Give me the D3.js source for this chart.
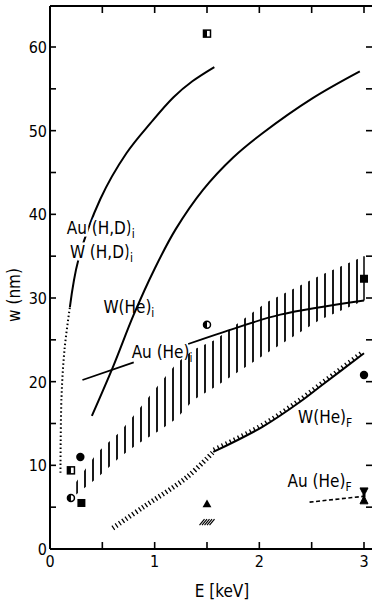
<!DOCTYPE html>
<html>
<head>
<meta charset="utf-8">
<script src="https://cdn.jsdelivr.net/npm/d3@7"></script>
<style>
  html, body { margin: 0; padding: 0; background: #fff; }
  text { font-family: "DejaVu Sans Condensed", "DejaVu Sans", sans-serif; fill: #000; }
</style>
</head>
<body>
<div id="chart"></div>
<script>
// curves: [E (keV), w (nm)]
const auHDi = [[0.19, 28.9], [0.27, 34.5], [0.48, 41.8], [0.73, 47.3], [0.96, 50.9], [1.18, 54], [1.36, 55.9], [1.57, 57.6]];
const auHDiDotted = [[0.1, 9.1], [0.11, 18.2], [0.14, 24], [0.19, 28.9]];
const wHei = [[0.4, 15.9], [0.6, 21.7], [0.8, 28], [1.0, 33.5], [1.2, 38.2], [1.46, 42.9], [1.75, 46.8], [2.03, 49.7], [2.51, 53.9], [2.96, 57.1]];
const auHeiA = [[0.31, 20.2], [0.8, 22.3]];
const auHeiB = [[1.32, 24.5], [1.65, 25.9], [2.2, 28], [3, 29.7]];
const bandUpper = [[0.25, 8], [0.45, 11.5], [0.67, 14], [0.83, 16.4], [1.05, 19.8], [1.21, 22.2], [1.37, 23.8], [1.58, 25], [2.07, 29.5], [2.58, 32.7], [3, 35]];
const bandLower = [[0.25, 6.5], [0.45, 8.5], [0.67, 11], [0.83, 12.5], [1.05, 14.2], [1.21, 15.6], [1.37, 17.8], [1.6, 19.4], [2.07, 23.4], [2.58, 27.4], [3, 29.7]];
const wHeFDashed = [[0.6, 2.5], [0.89, 5], [1.31, 8.6], [1.56, 11.6]];
const wHeFSolid = [[1.56, 11.6], [2.03, 14.6], [2.39, 17.6], [2.6, 19.6], [3, 23.4]];
const auHeF = [[2.48, 5.6], [3, 6.3]];

// single measurements
const halfSquares = [[1.5, 61.6], [0.2, 9.4]];
const halfCircles = [[1.5, 26.8], [0.2, 6.1]];
const filledSquares = [[0.3, 5.5], [3, 32.3]];
const filledCircles = [[0.29, 11], [3, 20.8]];
const triangles = [[1.5, 5.3]];
const hatchedSpots = [[1.5, 3.2]];
const errorBars = [[3, 5.4, 7.3]];

const xTicks = [0, 1, 2, 3];
const xMinor = [0.5, 1.5, 2.5];
const yTicks = [0, 10, 20, 30, 40, 50, 60];
const yMinor = [5, 15, 25, 35, 45, 55];

const labels = [
  {t: 'Au (H,D)', s: 'i', e: 0.16, w: 37.6, halo: true},
  {t: 'W (H,D)', s: 'i', e: 0.19, w: 34.8, halo: true},
  {t: 'W(He)', s: 'i', e: 0.51, w: 28.2},
  {t: 'Au (He)', s: 'i', e: 0.78, w: 22.8},
  {t: 'W(He)', s: 'F', e: 2.37, w: 15.1},
  {t: 'Au (He)', s: 'F', e: 2.27, w: 7.4},
];

const W = 373, H = 602;
const svg = d3.select('#chart').append('svg').attr('width', W).attr('height', H);

const x = d3.scaleLinear().domain([0, 3]).range([50, 364]);
const y = d3.scaleLinear().domain([0, 60]).range([549, 47]);
const yTop = 6;

const line = d3.line().x((d) => x(d[0])).y((d) => y(d[1])).curve(d3.curveCatmullRom);

// hatch pattern for the band
const defs = svg.append('defs');
const pat = defs.append('pattern').attr('id', 'vhatch')
    .attr('patternUnits', 'userSpaceOnUse').attr('width', 8).attr('height', 10).attr('x', 1);
pat.append('line').attr('x1', 4).attr('x2', 4).attr('y1', 0).attr('y2', 10)
    .attr('stroke', '#000').attr('stroke-width', 1.8);

// frame
svg.append('line').attr('x1', x(0)).attr('x2', x(0)).attr('y1', yTop).attr('y2', y(0))
    .attr('stroke', '#000').attr('stroke-width', 2);
svg.append('line').attr('x1', x(0)).attr('x2', 372).attr('y1', y(0)).attr('y2', y(0))
    .attr('stroke', '#000').attr('stroke-width', 2);
svg.append('line').attr('x1', x(0)).attr('x2', 372).attr('y1', yTop).attr('y2', yTop)
    .attr('stroke', '#000').attr('stroke-width', 1.8);

const ticks = svg.append('g').attr('stroke', '#000').attr('stroke-width', 1.6);
// bottom ticks
ticks.selectAll('.bt').data(xTicks.concat(xMinor)).enter().append('line')
    .attr('x1', (d) => x(d)).attr('x2', (d) => x(d))
    .attr('y1', y(0)).attr('y2', y(0) - 7);
// top ticks
ticks.selectAll('.tt').data(xMinor.concat([1, 2, 3])).enter().append('line')
    .attr('x1', (d) => x(d)).attr('x2', (d) => x(d))
    .attr('y1', yTop).attr('y2', yTop + 7);
// left ticks
ticks.selectAll('.lt').data(yTicks.concat(yMinor).filter((d) => d > 0)).enter().append('line')
    .attr('x1', x(0)).attr('x2', x(0) + 6)
    .attr('y1', (d) => y(d)).attr('y2', (d) => y(d));
// right ticks
ticks.selectAll('.rt').data(yTicks.concat(yMinor).filter((d) => d > 0)).enter().append('line')
    .attr('x1', x(3) + 2).attr('x2', x(3) + 8)
    .attr('y1', (d) => y(d)).attr('y2', (d) => y(d));

svg.selectAll('.xl').data(xTicks).enter().append('text')
    .attr('x', (d) => x(d)).attr('y', y(0) + 18)
    .attr('text-anchor', 'middle').attr('font-size', 16).text((d) => d);
svg.selectAll('.yl').data(yTicks).enter().append('text')
    .attr('x', x(0) - 3).attr('y', (d) => y(d) + 6)
    .attr('text-anchor', 'end').attr('font-size', 16).text((d) => d);

svg.append('text').attr('x', 222).attr('y', 597).attr('text-anchor', 'middle')
    .attr('font-size', 17).text('E [keV]');
svg.append('text').attr('transform', 'translate(20,295) rotate(-90)')
    .attr('text-anchor', 'middle').attr('font-size', 17).text('w (nm)');

// hatched band
const area = d3.area().x((d) => x(d[0])).y0((d, i) => y(bandLower[i][1])).y1((d) => y(d[1]))
    .curve(d3.curveLinear);
svg.append('path').datum(bandUpper).attr('d', area).attr('fill', 'url(#vhatch)');
svg.append('line').attr('x1', x(3)).attr('x2', x(3))
    .attr('y1', y(bandUpper[bandUpper.length - 1][1])).attr('y2', y(bandLower[bandLower.length - 1][1]))
    .attr('stroke', '#000').attr('stroke-width', 1.5);

// curves
const curves = svg.append('g').attr('fill', 'none').attr('stroke', '#000');
curves.append('path').datum(auHDi).attr('d', line).attr('stroke-width', 2);
curves.append('path').datum(auHDiDotted).attr('d', line).attr('stroke-width', 2)
    .attr('stroke-dasharray', '1.5,2.5');
curves.append('path').datum(wHei).attr('d', line).attr('stroke-width', 2);
curves.append('path').datum(auHeiA).attr('d', line).attr('stroke-width', 1.8);
curves.append('path').datum(auHeiB).attr('d', line).attr('stroke-width', 1.8);
curves.append('path').datum(auHeF).attr('d', line).attr('stroke-width', 1.6)
    .attr('stroke-dasharray', '4,2.5');
curves.append('path').datum(wHeFDashed).attr('d', line).attr('stroke-width', 5)
    .attr('stroke-dasharray', '1.3,2.7');
const wSolid = curves.append('path').datum(wHeFSolid).attr('d', line).attr('stroke-width', 2);

// one-sided ticks under the solid W(He)F line
const node = wSolid.node();
const len = node.getTotalLength();
const tickPts = d3.range(2, len, 4.5);
curves.selectAll('.wt').data(tickPts).enter().append('line')
    .attr('stroke-width', 1.3)
    .each(function(l) {
      const p = node.getPointAtLength(l);
      const q = node.getPointAtLength(Math.min(len, l + 0.5));
      const dx = q.x - p.x;
      const dy = q.y - p.y;
      const n = Math.hypot(dx, dy) || 1;
      const nx = -dy / n;
      const ny = dx / n;
      d3.select(this).attr('x1', p.x).attr('y1', p.y)
          .attr('x2', p.x - nx * 4).attr('y2', p.y - ny * 4);
    });

// markers
const mk = svg.append('g');
halfSquares.forEach((d) => {
  const cx = x(d[0]);
  const cy = y(d[1]);
  mk.append('rect').attr('x', cx - 3.5).attr('y', cy - 3.5).attr('width', 7).attr('height', 7)
      .attr('fill', '#fff').attr('stroke', '#000').attr('stroke-width', 1.5);
  mk.append('rect').attr('x', cx - 3.5).attr('y', cy - 3.5).attr('width', 3.5).attr('height', 7)
      .attr('fill', '#000');
});
halfCircles.forEach((d) => {
  const cx = x(d[0]);
  const cy = y(d[1]);
  mk.append('circle').attr('cx', cx).attr('cy', cy).attr('r', 3.5)
      .attr('fill', '#fff').attr('stroke', '#000').attr('stroke-width', 1.5);
  mk.append('path').attr('d', d3.arc()({innerRadius: 0, outerRadius: 3.5, startAngle: Math.PI, endAngle: 2 * Math.PI}))
      .attr('transform', `translate(${cx},${cy})`).attr('fill', '#000');
});
mk.selectAll('.fs').data(filledSquares).enter().append('rect')
    .attr('x', (d) => x(d[0]) - 4).attr('y', (d) => y(d[1]) - 4)
    .attr('width', 8).attr('height', 8).attr('fill', '#000');
mk.selectAll('.fc').data(filledCircles).enter().append('circle')
    .attr('cx', (d) => x(d[0])).attr('cy', (d) => y(d[1])).attr('r', 4.2).attr('fill', '#000');
mk.selectAll('.tr').data(triangles).enter().append('path')
    .attr('d', d3.symbol().type(d3.symbolTriangle).size(34))
    .attr('transform', (d) => `translate(${x(d[0])},${y(d[1])})`).attr('fill', '#000');
hatchedSpots.forEach((d) => {
  const cx = x(d[0]);
  const cy = y(d[1]);
  [-5, -2.5, 0, 2.5, 5].forEach((o) => {
    mk.append('line').attr('x1', cx + o - 2.5).attr('y1', cy + 3)
        .attr('x2', cx + o + 2.5).attr('y2', cy - 3)
        .attr('stroke', '#000').attr('stroke-width', 1.2);
  });
});
errorBars.forEach((d) => {
  const cx = x(d[0]);
  const y1 = y(d[2]);
  const y0 = y(d[1]);
  const ym = (y0 + y1) / 2;
  mk.append('path')
      .attr('d', `M${cx - 4},${y1}L${cx + 4},${y1}L${cx + 1},${ym - 2}L${cx + 1},${ym + 2}` +
        `L${cx + 4},${y0}L${cx - 4},${y0}L${cx - 1},${ym + 2}L${cx - 1},${ym - 2}Z`)
      .attr('fill', '#000').attr('stroke', '#000').attr('stroke-width', 1);
});

// curve labels
labels.forEach((l) => {
  const t = svg.append('text').attr('x', x(l.e)).attr('y', y(l.w)).attr('font-size', 17);
  if (l.halo) {
    t.attr('stroke', '#fff').attr('stroke-width', 5).attr('paint-order', 'stroke');
  }
  t.append('tspan').text(l.t);
  t.append('tspan').attr('dy', 4).attr('font-size', 12).text(l.s);
});
</script>
</body>
</html>
